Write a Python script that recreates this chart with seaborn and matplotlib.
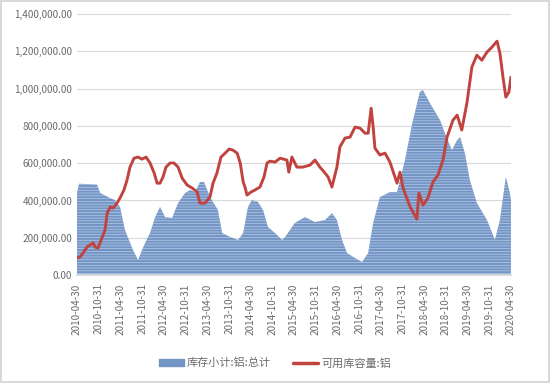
import numpy as np
import pandas as pd
import matplotlib
matplotlib.use("Agg")
import matplotlib.pyplot as plt
import matplotlib.ticker as mticker
from matplotlib.patches import Patch
from matplotlib.lines import Line2D
import seaborn as sns

# 库存小计:铝:总计
stock_dates = [
    "2010-04-30", "2010-05-17", "2010-10-16", "2010-11-11", "2011-01-17", "2011-03-15",
    "2011-04-27", "2011-06-08", "2011-08-14", "2011-09-26", "2011-10-13", "2011-11-24",
    "2012-01-05", "2012-02-17", "2012-03-29", "2012-05-10", "2012-07-08", "2012-08-28",
    "2012-10-26", "2012-12-07", "2013-01-19", "2013-02-28", "2013-04-03", "2013-05-23",
    "2013-07-29", "2013-09-03", "2013-11-09", "2014-01-15", "2014-02-27", "2014-04-08",
    "2014-05-11", "2014-07-01", "2014-08-13", "2014-09-24", "2014-11-22", "2015-01-20",
    "2015-02-15", "2015-05-08", "2015-08-01", "2015-10-24", "2016-01-17", "2016-03-15",
    "2016-04-26", "2016-06-08", "2016-07-20", "2016-09-09", "2016-11-24", "2017-01-14",
    "2017-02-25", "2017-04-23", "2017-07-16", "2017-09-14", "2017-11-20", "2018-01-19",
    "2018-03-25", "2018-04-20", "2018-06-18", "2018-09-11", "2018-10-22", "2018-12-20",
    "2019-02-02", "2019-02-27", "2019-04-08", "2019-05-20", "2019-07-18", "2019-10-11",
    "2019-12-17", "2020-01-28", "2020-03-18", "2020-04-21", "2020-04-30",
]
stock_values = [
    440000, 490000, 485000, 440000, 418000, 402000,
    365000, 241000, 134000, 80000, 107000, 172000,
    225000, 311000, 365000, 311000, 306000, 386000,
    440000, 456000, 445000, 499000, 500000, 418000,
    349000, 225000, 204000, 188000, 225000, 365000,
    402000, 392000, 349000, 257000, 225000, 188000,
    204000, 279000, 311000, 284000, 295000, 332000,
    295000, 188000, 118000, 97000, 70000, 118000,
    279000, 418000, 445000, 445000, 617000, 810000,
    982000, 992000, 922000, 831000, 761000, 670000,
    724000, 740000, 654000, 509000, 386000, 295000,
    188000, 295000, 526000, 440000, 400000,
]

# 可用库容量:铝
cap_dates = [
    "2010-04-30", "2010-05-25", "2010-06-20", "2010-07-23", "2010-08-18", "2010-09-13",
    "2010-09-29", "2010-10-24", "2010-11-19", "2010-12-22", "2011-01-09", "2011-02-04",
    "2011-02-28", "2011-04-02", "2011-04-27", "2011-05-30", "2011-06-25", "2011-07-20",
    "2011-08-23", "2011-09-26", "2011-10-29", "2011-12-02", "2012-01-05", "2012-02-09",
    "2012-03-04", "2012-03-29", "2012-04-23", "2012-05-18", "2012-06-21", "2012-07-25",
    "2012-08-28", "2012-10-01", "2012-11-12", "2012-12-24", "2013-02-05", "2013-02-28",
    "2013-04-12", "2013-05-23", "2013-06-18", "2013-07-21", "2013-08-24", "2013-09-28",
    "2013-11-01", "2013-12-04", "2014-01-07", "2014-02-02", "2014-02-27", "2014-03-14",
    "2014-03-31", "2014-05-03", "2014-06-06", "2014-07-18", "2014-08-21", "2014-09-16",
    "2014-10-11", "2014-11-22", "2015-01-04", "2015-03-02", "2015-03-18", "2015-04-13",
    "2015-05-25", "2015-07-14", "2015-09-13", "2015-10-24", "2015-12-05", "2016-01-17",
    "2016-02-12", "2016-03-15", "2016-04-26", "2016-05-21", "2016-07-03", "2016-08-14",
    "2016-09-26", "2016-11-07", "2016-12-19", "2017-01-14", "2017-02-08", "2017-02-25",
    "2017-03-12", "2017-04-23", "2017-06-05", "2017-07-16", "2017-09-14", "2017-10-09",
    "2017-11-04", "2018-01-02", "2018-02-28", "2018-03-17", "2018-04-20", "2018-06-01",
    "2018-07-13", "2018-08-24", "2018-10-06", "2018-11-09", "2018-12-29", "2019-02-02",
    "2019-03-13", "2019-04-25", "2019-06-06", "2019-07-18", "2019-08-29", "2019-10-11",
    "2019-11-22", "2020-01-04", "2020-01-28", "2020-02-23", "2020-03-18", "2020-04-13",
    "2020-04-30",
]
cap_values = [
    91000, 97000, 118000, 150000, 161000, 172000,
    150000, 145000, 188000, 241000, 332000, 365000,
    359000, 386000, 413000, 456000, 509000, 579000,
    627000, 633000, 622000, 633000, 601000, 547000,
    493000, 493000, 526000, 579000, 601000, 601000,
    579000, 520000, 483000, 467000, 445000, 386000,
    386000, 418000, 493000, 547000, 633000, 654000,
    676000, 670000, 654000, 601000, 499000, 472000,
    429000, 445000, 456000, 472000, 526000, 601000,
    611000, 606000, 627000, 617000, 552000, 633000,
    579000, 579000, 590000, 617000, 579000, 547000,
    526000, 472000, 579000, 687000, 735000, 740000,
    794000, 788000, 761000, 761000, 895000, 794000,
    681000, 644000, 654000, 606000, 493000, 552000,
    467000, 365000, 300000, 440000, 375000, 413000,
    499000, 536000, 617000, 740000, 831000, 858000,
    778000, 922000, 1116000, 1180000, 1153000, 1196000,
    1223000, 1255000, 1191000, 1062000, 955000, 982000,
    1062000,
]

stock_label = "库存小计:铝:总计"
cap_label = "可用库容量:铝"
y_ticks = [0, 200000, 400000, 600000, 800000, 1000000, 1200000, 1400000]

stock = pd.DataFrame({"date": pd.to_datetime(stock_dates), "value": stock_values})
cap = pd.DataFrame({"date": pd.to_datetime(cap_dates), "value": cap_values})

sns.set_theme(style="white")
plt.rcParams["font.family"] = ["Noto Sans CJK SC", "DejaVu Sans"]
plt.rcParams["hatch.linewidth"] = 0.5

blue = "#7395c6"
red = "#c0433f"
grey_text = "#6b6b6b"

fig = plt.figure(figsize=(5.5, 3.83), dpi=100)
fig.patch.set_edgecolor("#d9d9d9")
fig.patch.set_linewidth(1.5)
ax = fig.add_axes([0.14, 0.282, 0.789, 0.681])

# blue area with the thin light stripes of the original
ax.fill_between(stock["date"], stock["value"], 0, facecolor=blue,
                edgecolor="#bccde6", hatch="------", linewidth=0, zorder=2)
sns.lineplot(data=cap, x="date", y="value", ax=ax, color=red, linewidth=2.1, zorder=3)

ax.set_ylim(0, 1400000)
ax.set_yticks(y_ticks)
ax.yaxis.set_major_formatter(mticker.FuncFormatter(lambda v, p: f"{v:,.2f}"))
ticks = pd.date_range("2010-04-30", "2020-04-30", freq="6ME")
ax.set_xticks(ticks)
ax.set_xticklabels([t.strftime("%Y-%m-%d") for t in ticks], rotation=90)
ax.set_xlim(pd.Timestamp("2010-04-30"), pd.Timestamp("2020-04-30"))

ax.grid(axis="y", color="#d9d9d9", linewidth=0.8, zorder=0)
ax.set_axisbelow(True)
for s in ["top", "right", "left"]:
    ax.spines[s].set_visible(False)
ax.spines["bottom"].set_color("#d9d9d9")
ax.tick_params(axis="both", length=0, colors=grey_text, labelsize=7.2)
ax.tick_params(axis="x", pad=6)
ax.set_xlabel("")
ax.set_ylabel("")

handles = [Patch(facecolor=blue, edgecolor=blue),
           Line2D([0], [0], color=red, linewidth=2.5)]
fig.legend(handles, [stock_label, cap_label], loc="center", bbox_to_anchor=(0.5, 0.052),
           ncol=2, frameon=False, fontsize=8, labelcolor=grey_text,
           handlelength=2.2, handleheight=0.6, columnspacing=2.0, handletextpad=0.3)

fig.savefig("out.png", dpi=100)
